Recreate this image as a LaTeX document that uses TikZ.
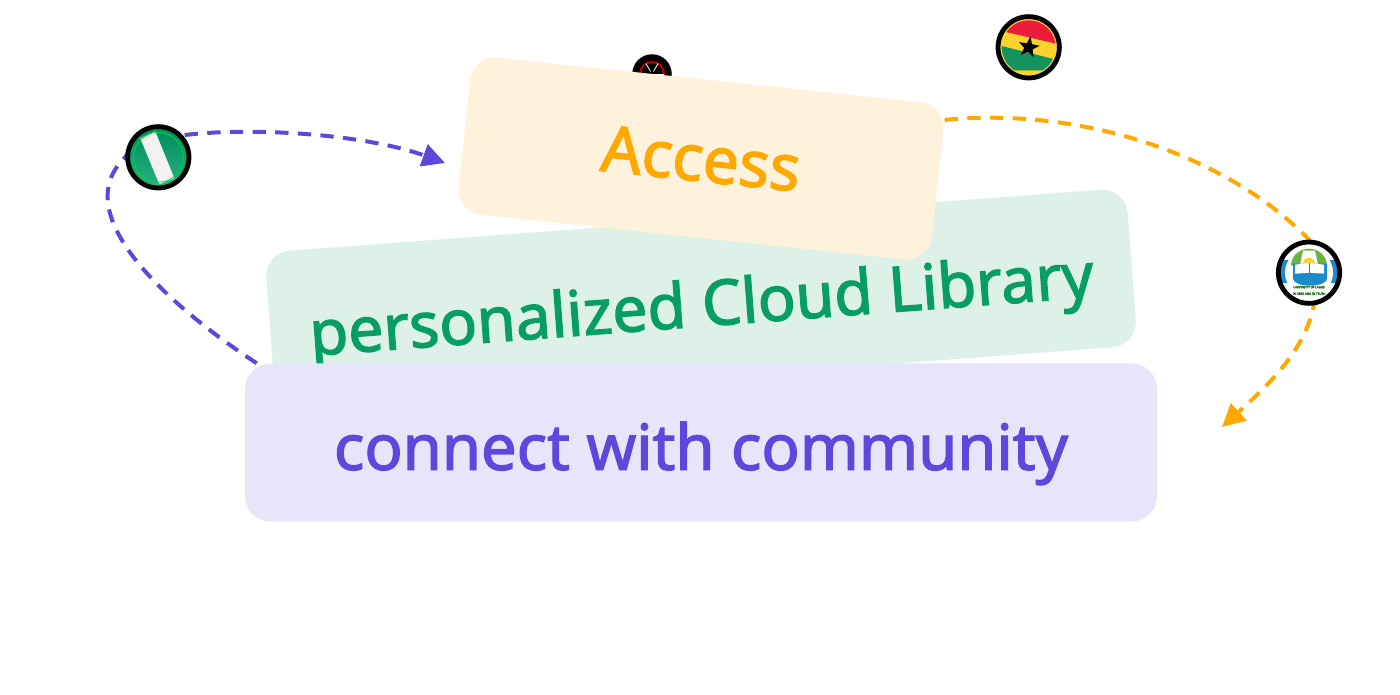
\documentclass[tikz,border=0pt]{standalone}
\usepackage{fontspec}
\setmainfont[FakeBold=2]{Noto Sans}
\usetikzlibrary{arrows.meta, backgrounds}
\definecolor{accessText}{HTML}{FFA800}
\definecolor{accessBox}{HTML}{FFF2DC}
\definecolor{cloudText}{HTML}{069E62}
\definecolor{cloudBox}{HTML}{DEF1E8}
\definecolor{communityText}{HTML}{5C48DC}
\definecolor{communityBox}{HTML}{E8E4FA}
\definecolor{naijaGreen}{HTML}{00A46C}
\definecolor{ghanaRed}{HTML}{EE1C3C}
\definecolor{ghanaGold}{HTML}{FCD32C}
\definecolor{ghanaGreen}{HTML}{14935F}
\definecolor{unilagBlue}{HTML}{1B8CCB}
\definecolor{unilagGreen}{HTML}{6DB33F}

\begin{document}
\begin{tikzpicture}[x=0.75pt, y=-0.75pt,
	labelbox/.style={rounded corners=19pt, minimum height=118.5pt, inner sep=0pt, text height=41pt, text depth=0pt, font=\fontsize{47.5}{58}\selectfont},
	badge/.style={circle, draw=black, line width=3.6pt, minimum size=46pt, inner sep=0pt},
	link/.style={line width=3pt, dash pattern=on 10pt off 7pt, -{Triangle[length=17pt, width=17pt]}},
	crest/.style={font=\fontsize{2.2}{3}\selectfont, text=green!40!black, inner sep=0pt},
	naija/.style={badge, top color=naijaGreen!85!black, bottom color=naijaGreen!85!white, path picture={
		\begin{scope}[shift={(path picture bounding box.center)}]
			\fill[white!95!black] (-18,-19) -- (-3,-26) -- (16,21) -- (1,27) -- cycle;
			\draw[green!60!naijaGreen, line width=0.6pt] (0,0) circle (25);
		\end{scope}}},
	ghana/.style={badge, fill=ghanaGold, path picture={
		\begin{scope}[shift={(path picture bounding box.center)}]
			\clip (0,0) circle (27);
			\fill[ghanaRed] (-30,-17) -- (30,-3) -- (30,-40) -- (-30,-40) -- cycle;
			\fill[ghanaGreen] (-30,-2) -- (30,13) -- (30,23) -- (-30,23) -- cycle;
			\clip (0,0) circle (25);
			\fill[black] (-80:11) \foreach \a in {-44,-8,...,244} {-- (\a:{mod(\a+80,72)==0 ? 11 : 4.5})} -- cycle;
		\end{scope}}},
	unilag/.style={badge, fill=white, path picture={
		\begin{scope}[shift={(path picture bounding box.center)}]
			\fill[unilagBlue] (-29,-13) rectangle (29,10);
			\fill[white] (0,0) circle (24);
			\fill[unilagGreen] (-18,-7) arc (180:360:18 and 17) -- cycle;
			\fill[white] (-9,-8) -- (-6,-22) -- (6,-22) -- (9,-8) -- cycle;
			\fill[ghanaGold] (-6,-9) arc (180:360:6) -- cycle;
			\fill[unilagBlue] (-16,-9) -- (18,-9) -- (18,6) arc (0:180:17 and 7) -- cycle;
			\fill[white] (-14,-8) -- (0,-10) -- (15,-8) -- (15,1) -- (0,0) -- (-14,1) -- cycle;
			\draw[black!60, line width=0.4pt] (0,-10) -- (0,0);
			\node[crest](unilagname) at (0,14.5) {UNIVERSITY OF LAGOS};
			\node[crest](unilagmotto) at (0,21) {IN DEED AND IN TRUTH};
		\end{scope}}},
	kenya/.style={badge, minimum size=26pt, fill=black, path picture={
		\begin{scope}[shift={(path picture bounding box.center)}]
			\draw[red!75!black, line width=1.5pt] (0,0) circle (12);
			\foreach \a in {0,60,...,300} \draw[white, line width=0.6pt] (\a:3) -- (\a:12);
		\end{scope}}}]

	\useasboundingbox (0,0) rectangle (1400,695);

	\node[labelbox, fill=cloudBox, minimum width=648pt, rotate=4.3, text=cloudText, font=\fontsize{47}{58}\selectfont](cloud) at (701,299) {personalized Cloud Library};
	\node[kenya](kenyaflag) at (652,74) {};
	\node[labelbox, fill=accessBox, minimum width=357pt, rotate=-6, text=accessText, text height=34pt, font=\fontsize{48}{58}\selectfont](access) at (701,158.5) {Access};
	\node[labelbox, fill=communityBox, minimum width=684pt, text=communityText](community) at (701,442.5) {connect with community};

	\node[naija](naijaflag) at (158.3,157.3) {};
	\node[ghana](ghanaflag) at (1028.7,47.3) {};
	\node[unilag](unilagflag) at (1309,272.7) {};

	\coordinate (accesstip) at (445,163);
	\coordinate (communitytip) at (1222,427);

	\begin{pgfonlayer}{background}
		\draw[link, communityText] ([xshift=9pt]community.north west) .. controls (172,308) and (65,215) .. (naijaflag.west) .. controls (140,122) and (340,125) .. (accesstip);
		\draw[link, accessText] (access.15) .. controls (1090,106) and (1232,160) .. (unilagflag.north) .. controls (1335,320) and (1285,370) .. (communitytip);
	\end{pgfonlayer}
\end{tikzpicture}
\end{document}
